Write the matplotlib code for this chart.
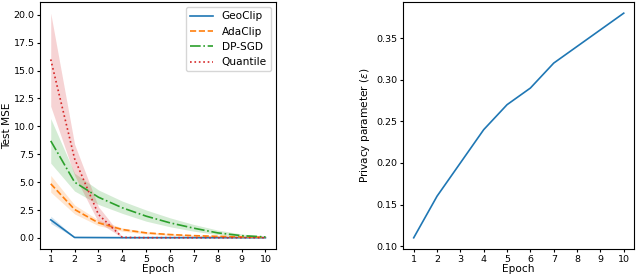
import matplotlib
matplotlib.use("Agg")
import matplotlib.pyplot as plt
import numpy as np

epochs = [1, 2, 3, 4, 5, 6, 7, 8, 9, 10]

geoclip = [1.62, 0.04, 0.03, 0.02, 0.02, 0.02, 0.02, 0.02, 0.02, 0.02]
geoclip_lo = [1.3, 0.02, 0.02, 0.01, 0.01, 0.01, 0.01, 0.01, 0.01, 0.01]
geoclip_hi = [1.95, 0.07, 0.05, 0.04, 0.03, 0.03, 0.03, 0.03, 0.03, 0.03]

adaclip = [4.85, 2.55, 1.35, 0.75, 0.45, 0.3, 0.2, 0.14, 0.09, 0.05]
adaclip_lo = [4.1, 2.15, 1.1, 0.6, 0.35, 0.22, 0.14, 0.09, 0.05, 0.02]
adaclip_hi = [5.6, 2.95, 1.6, 0.9, 0.55, 0.38, 0.26, 0.19, 0.13, 0.08]

dpsgd = [8.7, 5.0, 3.65, 2.7, 1.95, 1.35, 0.87, 0.45, 0.2, 0.09]
dpsgd_lo = [6.7, 4.2, 3.0, 2.2, 1.5, 1.0, 0.6, 0.3, 0.1, 0.03]
dpsgd_hi = [10.7, 5.8, 4.3, 3.3, 2.5, 1.8, 1.2, 0.7, 0.35, 0.15]

quantile = [16.0, 7.1, 2.1, 0.05, 0.02, 0.02, 0.02, 0.02, 0.02, 0.02]
quantile_lo = [11.8, 5.6, 1.4, 0.02, 0.01, 0.01, 0.01, 0.01, 0.01, 0.01]
quantile_hi = [20.15, 8.4, 2.8, 0.1, 0.04, 0.04, 0.04, 0.04, 0.04, 0.04]

epsilon = [0.11, 0.16, 0.20, 0.24, 0.27, 0.29, 0.32, 0.34, 0.36, 0.38]

fig = plt.figure(figsize=(6.4, 2.77), dpi=100)
ax1 = fig.add_axes([0.0625, 0.101, 0.369, 0.892])
ax2 = fig.add_axes([0.63, 0.101, 0.361, 0.892])

tfs = 6.8
lfs = 7.6

series = [
    ("GeoClip", geoclip, geoclip_lo, geoclip_hi, "#1f77b4", "-"),
    ("AdaClip", adaclip, adaclip_lo, adaclip_hi, "#ff7f0e", "--"),
    ("DP-SGD", dpsgd, dpsgd_lo, dpsgd_hi, "#2ca02c", "-."),
    ("Quantile", quantile, quantile_lo, quantile_hi, "#d62728", ":"),
]
for name, y, lo, hi, c, ls in series:
    ax1.fill_between(epochs, lo, hi, color=c, alpha=0.2, linewidth=0)
    ax1.plot(epochs, y, color=c, linestyle=ls, linewidth=1.2, label=name)

ax1.set_xticks(epochs)
ax1.set_yticks([0.0, 2.5, 5.0, 7.5, 10.0, 12.5, 15.0, 17.5, 20.0])
ax1.tick_params(labelsize=tfs, length=2.5, pad=1.5)
ax1.set_xlabel("Epoch", fontsize=lfs, labelpad=0.5)
ax1.set_ylabel("Test MSE", fontsize=lfs, labelpad=1)
ax1.legend(fontsize=lfs, loc="upper right", handlelength=2.2)

ax2.plot(epochs, epsilon, color="#1f77b4", linewidth=1.2)
ax2.set_xticks(epochs)
ax2.set_yticks([0.10, 0.15, 0.20, 0.25, 0.30, 0.35])
ax2.tick_params(labelsize=tfs, length=2.5, pad=1.5)
ax2.set_xlabel("Epoch", fontsize=lfs, labelpad=0.5)
ax2.set_ylabel(r"Privacy parameter ($\epsilon$)", fontsize=lfs, labelpad=3)

fig.savefig("out.png", dpi=100)
